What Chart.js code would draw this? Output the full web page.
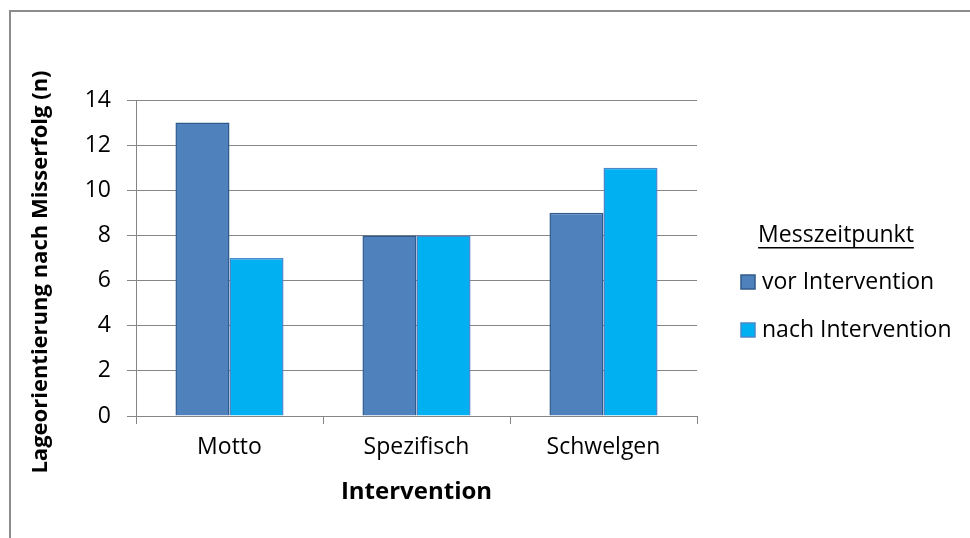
<!DOCTYPE html>
<html>
<head>
<meta charset="utf-8">
<script src="https://cdn.jsdelivr.net/npm/chart.js@4.4.1/dist/chart.umd.min.js"></script>
<style>
  html, body { margin: 0; padding: 0; background: #ffffff; overflow: hidden; }
  #wrap { position: relative; width: 970px; height: 538px; }
  #frame { position: absolute; left: 9px; top: 10px; width: 1000px; height: 600px;
           border-left: 2px solid #8c8c8c; border-top: 2px solid #8c8c8c; box-sizing: border-box; }
  canvas { position: absolute; left: 0; top: 0; }
</style>
</head>
<body>
<div id="wrap">
  <div id="frame"></div>
  <canvas id="c" width="970" height="538"></canvas>
</div>
<script>
const categories = ['Motto', 'Spezifisch', 'Schwelgen'];
const seriesNames = ['vor Intervention', 'nach Intervention'];
const vorValues = [13, 8, 9];
const nachValues = [7, 8, 11];
const yTicks = [0, 2, 4, 6, 8, 10, 12, 14];
const legendTitle = 'Messzeitpunkt';
const xTitle = 'Intervention';
const yTitle = 'Lageorientierung nach Misserfolg (n)';

const FONT = 'Open Sans';
const GRID = '#868686';

const legendPlugin = {
  id: 'customLegend',
  afterDraw(chart) {
    const ctx = chart.ctx;
    ctx.save();
    ctx.font = '23px "' + FONT + '"';
    ctx.fillStyle = '#000';
    ctx.textBaseline = 'middle';
    ctx.textAlign = 'center';
    const tx = 836, ty = 235;
    ctx.fillText(legendTitle, tx, ty);
    const tw = ctx.measureText(legendTitle).width;
    ctx.fillRect(tx - tw / 2, 247, tw, 1.5);
    ctx.textAlign = 'left';
    chart.data.datasets.forEach((ds, i) => {
      const cy = 282 + i * 48;
      ctx.fillStyle = ds.backgroundColor;
      ctx.fillRect(741, cy - 7, 14, 14);
      ctx.strokeStyle = ds.borderColor;
      ctx.lineWidth = 1.5;
      ctx.strokeRect(741, cy - 7, 14, 14);
      ctx.fillStyle = '#000';
      ctx.fillText(ds.label, 762, cy);
    });
    ctx.restore();
  }
};

new Chart(document.getElementById('c'), {
  type: 'bar',
  data: {
    labels: categories,
    datasets: [
      { label: seriesNames[0], data: vorValues, backgroundColor: '#4F81BD', borderColor: '#2F5A8C',
        borderWidth: 1.5, categoryPercentage: 0.578, barPercentage: 1.0 },
      { label: seriesNames[1], data: nachValues, backgroundColor: '#00B0F0', borderColor: '#4A86CC',
        borderWidth: 1.5, categoryPercentage: 0.578, barPercentage: 1.0 }
    ]
  },
  options: {
    responsive: false,
    animation: false,
    devicePixelRatio: 1,
    layout: { padding: { left: 10, top: 100, right: 273, bottom: 0 } },
    plugins: { legend: { display: false }, tooltip: { enabled: false } },
    scales: {
      x: {
        afterFit(scale) { scale.height = 122; },
        grid: { display: true, drawOnChartArea: false, drawTicks: true, tickLength: 8, color: GRID, offset: true },
        border: { display: true, color: GRID, width: 1 },
        ticks: { color: '#000', font: { family: FONT, size: 23 }, padding: 10, maxRotation: 0 },
        title: { display: true, text: xTitle, color: '#000', font: { family: FONT, size: 24, weight: 'bold' },
                 padding: { top: 0, bottom: 31 } }
      },
      y: {
        min: 0, max: 14,
        afterFit(scale) {
          scale.width = 126;
          if (!scale._titleShifted) {
            const orig = scale.drawTitle;
            scale.drawTitle = function () {
              this.ctx.save();
              this.ctx.translate(0, 14);
              orig.call(this);
              this.ctx.restore();
            };
            scale._titleShifted = true;
          }
        },
        afterBuildTicks(scale) { scale.ticks = yTicks.map(v => ({ value: v })); },
        grid: { color: GRID, lineWidth: 1, drawTicks: true, tickLength: 9 },
        border: { display: true, color: GRID, width: 1 },
        ticks: { color: '#000', font: { family: FONT, size: 23 }, padding: 16 },
        title: { display: true, text: yTitle, color: '#000', font: { family: FONT, size: 22, weight: 'bold' },
                 padding: { top: 18, bottom: 0 } }
      }
    }
  },
  plugins: [legendPlugin]
});
</script>
</body>
</html>
